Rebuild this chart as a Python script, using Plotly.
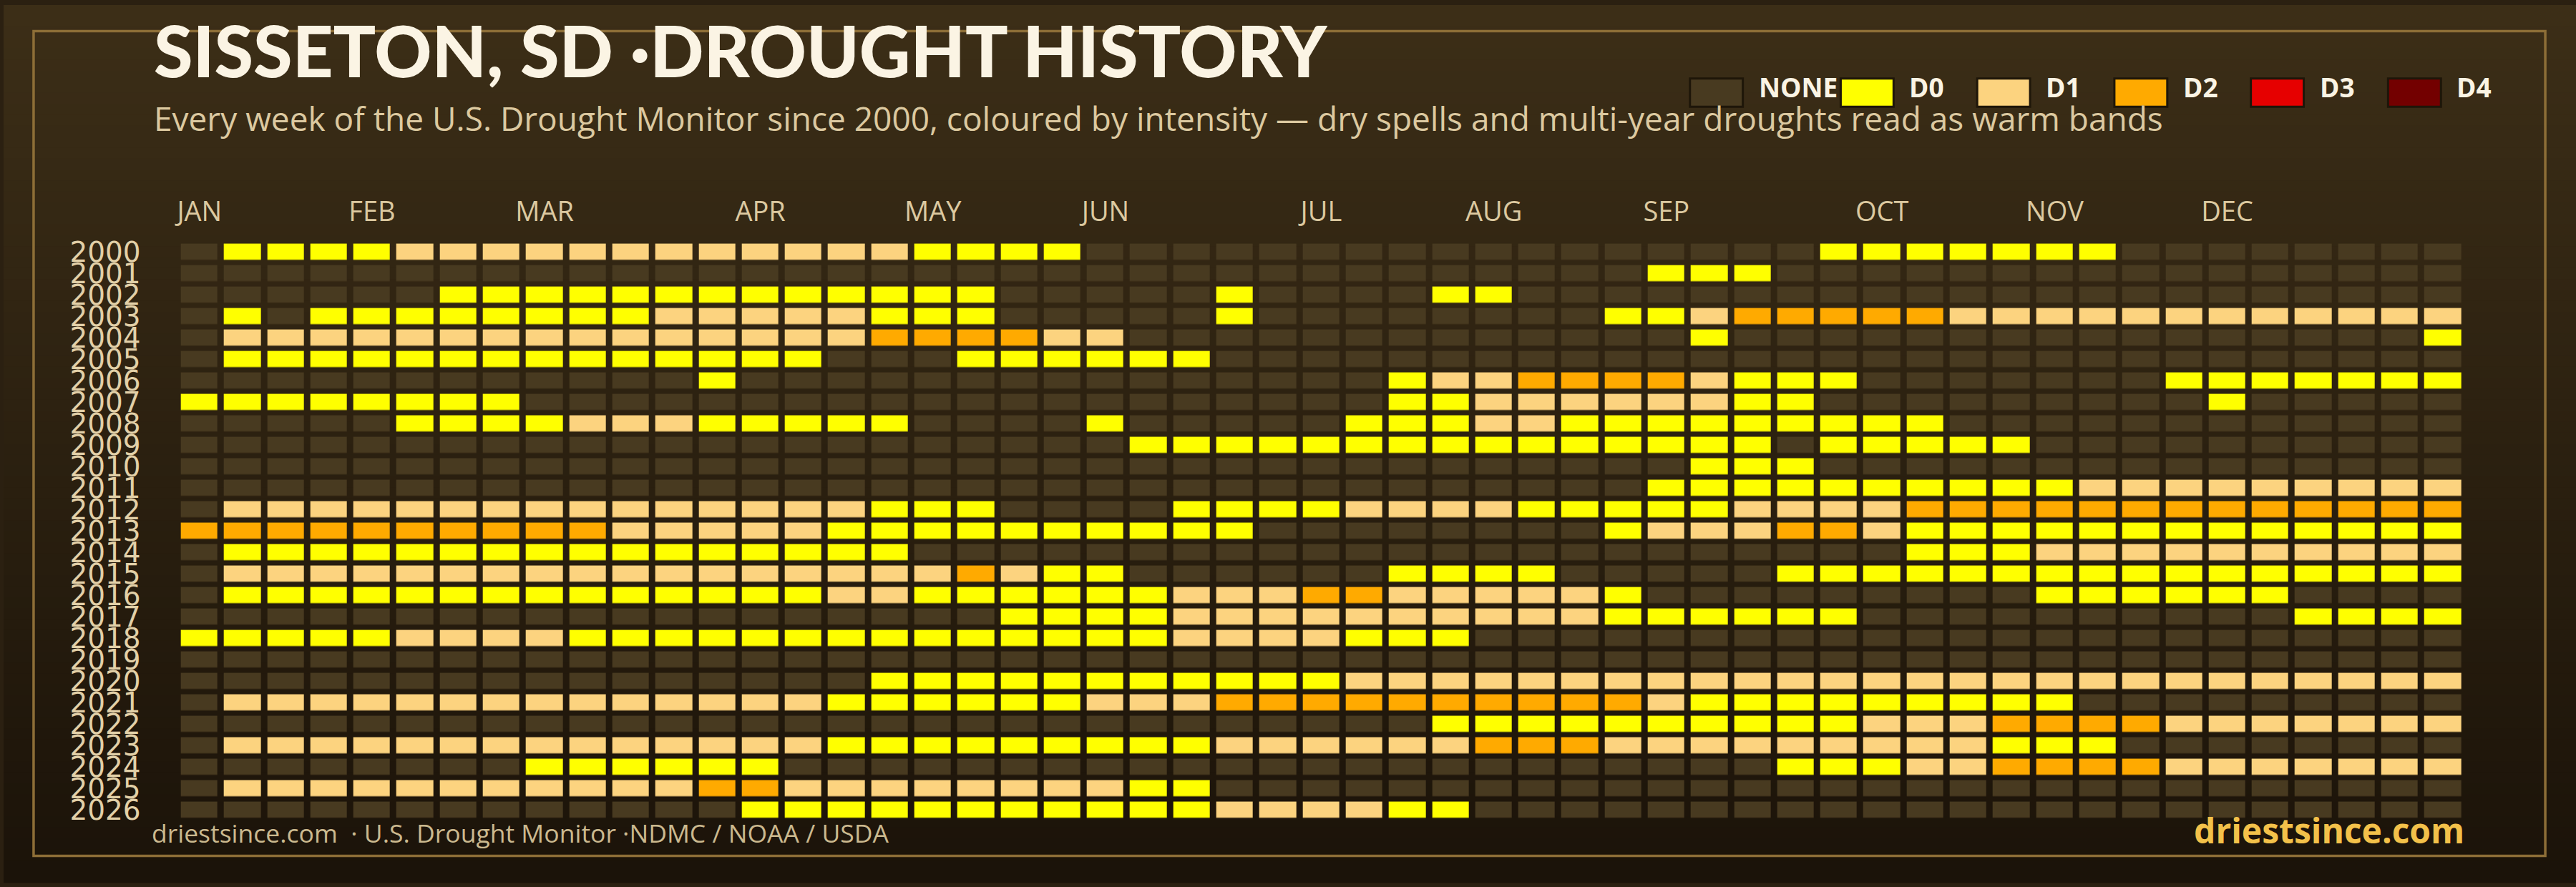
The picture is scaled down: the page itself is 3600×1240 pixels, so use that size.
import plotly.graph_objects as go

W, H = 3600, 1240

# ---------------- data ----------------
YEARS = [2000, 2001, 2002, 2003, 2004, 2005, 2006, 2007, 2008, 2009,
         2010, 2011, 2012, 2013, 2014, 2015, 2016, 2017, 2018, 2019,
         2020, 2021, 2022, 2023, 2024, 2025, 2026]
WEEKS = list(range(53))
MONTHS = ["JAN", "FEB", "MAR", "APR", "MAY", "JUN", "JUL", "AUG", "SEP", "OCT", "NOV", "DEC"]
MONTH_WEEK = [0, 4, 8, 13, 17, 21, 26, 30, 34, 39, 43, 47]
CATEGORIES = ["NONE", "D0", "D1", "D2", "D3", "D4"]
CAT_COLORS = ["#483a20", "#ffff00", "#fcd37f", "#ffaa00", "#e60000", "#730000"]

# weekly drought category per year (0 = none, 1 = D0 ... 5 = D4), columns grouped by 10 weeks
WEEKLY = [
    "0111122222 2222222111 1000000000 0000000011 1111100000 000",  # 2000
    "0000000000 0000000000 0000000000 0000111000 0000000000 000",  # 2001
    "0000001111 1111111110 0000100001 1000000000 0000000000 000",  # 2002
    "0101111111 1222221110 0000100000 0001123333 3222222222 222",  # 2003
    "0222222222 2222223333 2200000000 0000010000 0000000000 001",  # 2004
    "0111111111 1111100011 1111000000 0000000000 0000000000 000",  # 2005
    "0000000000 0010000000 0000000012 2333321110 0000001111 111",  # 2006
    "1111111100 0000000000 0000000011 2222221100 0000000100 000",  # 2007
    "0000011112 2211111000 0100000111 2211111111 1000000000 000",  # 2008
    "0000000000 0000000000 0011111111 1111111011 1110000000 000",  # 2009
    "0000000000 0000000000 0000000000 0000011100 0000000000 000",  # 2010
    "0000000000 0000000000 0000000000 0000111111 1111222222 222",  # 2011
    "0222222222 2222221110 0001111222 2111112222 3333333333 333",  # 2012
    "3333333333 2222211111 1111100000 0001222332 1111111111 111",  # 2013
    "0111111111 1111111000 0000000000 0000000000 1112222222 222",  # 2014
    "0222222222 2222222232 1100000011 1100000111 1111111111 111",  # 2015
    "0111111111 1111122111 1112223322 2221000000 0001111110 000",  # 2016
    "0000000000 0000000001 1112222222 2221111110 0000000001 111",  # 2017
    "1111122221 1111111111 1112222111 0000000000 0000000000 000",  # 2018
    "0000000000 0000000000 0000000000 0000000000 0000000000 000",  # 2019
    "0000000000 0000001111 1111111222 2222222222 2222222222 222",  # 2020
    "0222222222 2222211111 1222333333 3333211111 1111000000 000",  # 2021
    "0000000000 0000000000 0000000001 1111111112 2233332222 222",  # 2022
    "0222222222 2222211111 1111222222 3332222222 2211100000 000",  # 2023
    "0000000011 1111000000 0000000000 0000000111 2233332222 222",  # 2024
    "0222222222 2233222222 2211000000 0000000000 0000000000 000",  # 2025
    "0000000000 0001111111 1111222211 0000000000 0000000000 000",  # 2026
]

TITLE = "SISSETON, SD ·DROUGHT HISTORY"
SUBTITLE = ("Every week of the U.S. Drought Monitor since 2000, coloured by intensity — "
            "dry spells and multi-year droughts read as warm bands")
SOURCE = "driestsince.com \u00a0· U.S. Drought Monitor ·NDMC / NOAA / USDA"
BRAND = "driestsince.com"

z = []
for row in WEEKLY:
    vals = [int(c) for c in row.replace(" ", "")]
    assert len(vals) == 53, (row, len(vals))
    z.append(vals)

# ---------------- style ----------------
TITLE_FONT = "Lato"
FONT = "Open Sans"
TAN = "#dcc9a0"
CREAM = "#fbf4e4"

n = len(CAT_COLORS)
colorscale = []
for k, c in enumerate(CAT_COLORS):
    colorscale.append([k / n, c])
    colorscale.append([(k + 1) / n, c])

fig = go.Figure()
fig.add_trace(go.Heatmap(
    z=z, x=WEEKS, y=YEARS,
    zmin=-0.5, zmax=n - 0.5,
    colorscale=colorscale, showscale=False,
    xgap=9, ygap=7.4, hoverinfo="skip",
))

def px_x(v):
    return v / W

def px_y(v):
    return 1 - v / H

shapes = []
# background gradient
NB = 80
top = (60, 46, 23)
bot = (27, 19, 9)
for i in range(NB):
    t = i / (NB - 1)
    col = tuple(round(top[j] + (bot[j] - top[j]) * t) for j in range(3))
    shapes.append(dict(type="rect", xref="paper", yref="paper",
                       x0=0, x1=1, y0=1 - (i + 1) / NB - 0.001, y1=1 - i / NB,
                       fillcolor="rgb(%d,%d,%d)" % col, line=dict(width=0), layer="below"))
# frame
shapes.append(dict(type="rect", xref="paper", yref="paper",
                   x0=px_x(42), x1=px_x(3557), y0=px_y(1203), y1=px_y(37),
                   fillcolor="rgba(0,0,0,0)", line=dict(color="#8d6e37", width=3.5), layer="below"))

annotations = []
# legend
LEG_X = [2360, 2571, 2762, 2954, 3145, 3337]
for k, (name, col) in enumerate(zip(CATEGORIES, CAT_COLORS)):
    x0 = LEG_X[k]
    shapes.append(dict(type="rect", xref="paper", yref="paper",
                       x0=px_x(x0), x1=px_x(x0 + 74), y0=px_y(144), y1=px_y(104),
                       fillcolor=col, line=dict(color="#1e1609", width=3), layer="above"))
    annotations.append(dict(x=px_x(x0 + 94), y=px_y(116), xref="paper", yref="paper",
                            xanchor="left", yanchor="middle", showarrow=False, text=name,
                            font=dict(family=FONT, size=37, color=CREAM, weight=700)))

annotations.append(dict(x=px_x(208), y=px_y(63), xref="paper", yref="paper",
                        xanchor="left", yanchor="middle", showarrow=False, text=TITLE,
                        font=dict(family=TITLE_FONT, size=99, color=CREAM, weight=900)))
annotations.append(dict(x=px_x(208), y=px_y(160), xref="paper", yref="paper",
                        xanchor="left", yanchor="middle", showarrow=False, text=SUBTITLE,
                        font=dict(family=FONT, size=46, color=TAN)))
annotations.append(dict(x=px_x(205), y=px_y(1170), xref="paper", yref="paper",
                        xanchor="left", yanchor="middle", showarrow=False, text=SOURCE,
                        font=dict(family=FONT, size=35.5, color="#cbb98f")))
annotations.append(dict(x=px_x(3446), y=px_y(1167), xref="paper", yref="paper",
                        xanchor="right", yanchor="middle", showarrow=False, text=BRAND,
                        font=dict(family=FONT, size=48, color="#f3c14a", weight=700)))

fig.update_layout(
    width=W, height=H,
    margin=dict(l=0, r=0, t=0, b=0),
    paper_bgcolor="#2b2011",
    plot_bgcolor="rgba(0,0,0,0)",
    shapes=shapes, annotations=annotations,
    showlegend=False,
    xaxis=dict(domain=[244 / W, 3444 / W], range=[-0.5, 52.5], side="top",
               tickmode="array", tickvals=MONTH_WEEK, ticktext=MONTHS,
               showgrid=False, zeroline=False, showline=False, ticks="",
               tickfont=dict(family=FONT, size=38, color=TAN),
               ticklabelstandoff=20, fixedrange=True),
    yaxis=dict(domain=[86.3 / H, 905.7 / H], range=[2026.5, 1999.5],
               tickmode="array", tickvals=YEARS, ticktext=[str(y) for y in YEARS],
               showgrid=False, zeroline=False, showline=False, ticks="",
               tickfont=dict(family="DejaVu Sans", size=39, color="#e2d0a8"),
               ticklabelstandoff=51, fixedrange=True),
)

fig.write_html("out.html", config={"displayModeBar": False})
